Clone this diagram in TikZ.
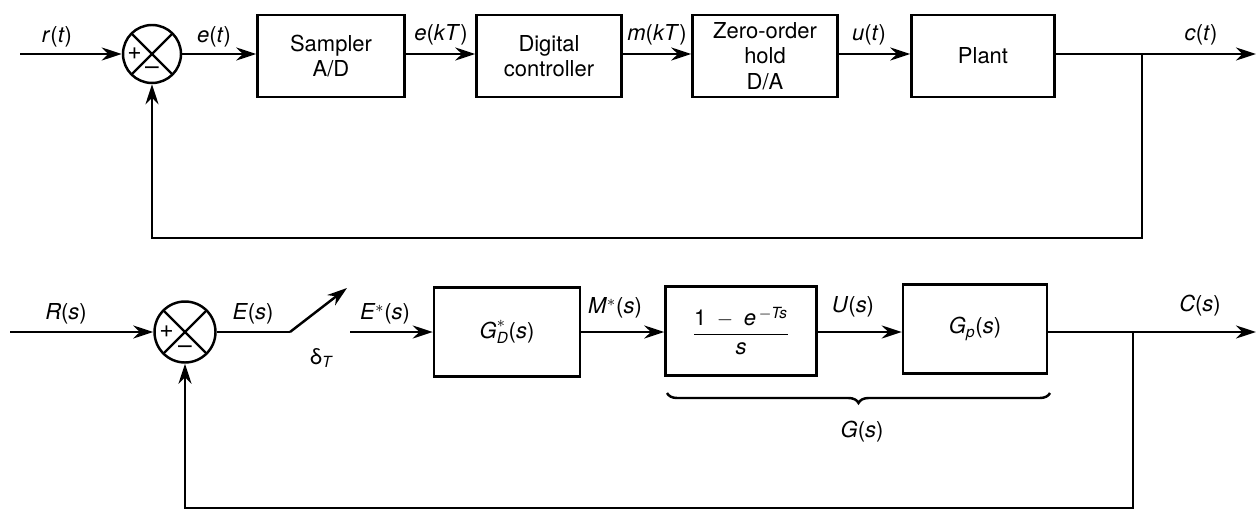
\documentclass[tikz,border=0pt]{standalone}
\usepackage{amsmath}
\usepackage{fontspec}
\setmainfont{TeX Gyre Heros}
\usetikzlibrary{arrows.meta,decorations.pathreplacing}

\newcommand{\vv}[1]{\textit{#1}}

\tikzset{
  wire/.style={line width=1.4pt},
  sig/.style={wire, -{Stealth[length=4mm,width=2.6mm]}},
  blk/.style={draw, wire, align=center, inner sep=2pt,
    font=\fontsize{12.5}{14.5}\selectfont},
  sumj/.style={draw, wire, circle, minimum size=1.16cm, inner sep=0pt,
    path picture={\draw[wire] (path picture bounding box.north west) -- (path picture bounding box.south east)
      (path picture bounding box.north east) -- (path picture bounding box.south west);}},
  lbl/.style={font=\fontsize{12.5}{14.5}\selectfont, inner sep=1pt},
  sgn/.style={font=\fontsize{14}{15}\selectfont, inner sep=0pt}
}

\begin{document}
\begin{tikzpicture}[x=0.02cm, y=-0.02cm]
  \useasboundingbox (0,0) rectangle (1257,517);

  % top loop: blocks
  \coordinate (rin) at (20,54);
  \node[sumj] (sum1) at (152,54) {};
  \node[blk, minimum width=2.94cm, minimum height=1.64cm] (samp) at (331,56) {Sampler\\A/D};
  \node[blk, minimum width=2.9cm, minimum height=1.64cm] (dig) at (549,56) {Digital\\controller};
  \node[blk, minimum width=2.9cm, minimum height=1.64cm] (zoh) at (765,56) {Zero-order\\hold\\D/A};
  \node[blk, minimum width=2.86cm, minimum height=1.64cm] (plant) at (983,56) {Plant};
  \coordinate (br1) at (1142,54);
  \coordinate (out1) at (1256,54);
  \coordinate (fb1) at (1142,238);

  % top loop: signals
  \draw[sig] (rin) -- (sum1);
  \draw[sig] (sum1) -- (sum1 -| samp.west);
  \draw[sig] (samp.east |- sum1) -- (sum1 -| dig.west);
  \draw[sig] (dig.east |- sum1) -- (sum1 -| zoh.west);
  \draw[sig] (zoh.east |- sum1) -- (sum1 -| plant.west);
  \draw[sig] (plant.east |- sum1) -- (out1);
  \draw[sig] (br1) -- (fb1) -| (sum1.south);

  % top loop: labels
  \node[sgn] at ([xshift=-0.35cm]sum1.center) {+};
  \node[sgn] at ([yshift=-0.33cm]sum1.center) {--};
  \node[lbl] (lr) at (57,37) {\vv{r}(\vv{t})};
  \node[lbl] (le) at (214,37) {\vv{e}(\vv{t})};
  \node[lbl] (lekt) at (441,35) {\vv{e}(\vv{kT})};
  \node[lbl] (lmkt) at (657,35) {\vv{m}(\vv{kT})};
  \node[lbl] (lu) at (869,35) {\vv{u}(\vv{t})};
  \node[lbl] (lc) at (1201,35) {\vv{c}(\vv{t})};

  % bottom loop: blocks
  \coordinate (rin2) at (10,332);
  \node[sumj, minimum size=1.22cm] (sum2) at (185,332) {};
  \coordinate (sw1) at (290,332);
  \coordinate (sw2) at (347,288);
  \coordinate (es) at (350,332);
  \node[blk, minimum width=2.92cm, minimum height=1.78cm] (gd) at (507,332)
    {$\vv{G}^{\ast}_{\vv{D}}$(\vv{s})};
  \node[blk, minimum width=3.02cm, minimum height=1.78cm] (zh) at (741,331)
    {$\displaystyle\frac{\textup{1}\;-\;\vv{e}^{\,-\vv{Ts}}}{\vv{s}}$};
  \node[blk, minimum width=2.88cm, minimum height=1.78cm] (gp) at (975,329)
    {$\vv{G}_{\vv{p}}$(\vv{s})};
  \coordinate (br2) at (1133,332);
  \coordinate (out2) at (1256,332);
  \coordinate (fb2) at (1133,508);
  \coordinate (gl) at (667,393);
  \coordinate (gr) at (1050,393);

  % bottom loop: signals
  \draw[sig] (rin2) -- (sum2);
  \draw[wire] (sum2) -- (sw1);
  \draw[sig] (sw1) -- (sw2);
  \draw[sig] (es) -- (es -| gd.west);
  \draw[sig] (gd.east |- es) -- (es -| zh.west);
  \draw[sig] (zh.east |- es) -- (es -| gp.west);
  \draw[sig] (gp.east |- es) -- (out2);
  \draw[sig] (br2) -- (fb2) -| (sum2.south);
  \draw[wire, decorate, decoration={brace, mirror, amplitude=0.2cm}] (gl) -- (gr);

  % bottom loop: labels
  \node[sgn] at ([xshift=-0.37cm]sum2.center) {+};
  \node[sgn] at ([yshift=-0.35cm]sum2.center) {--};
  \node[lbl] (lR) at (66,314) {\vv{R}(\vv{s})};
  \node[lbl] (lE) at (253,314) {\vv{E}(\vv{s})};
  \node[lbl] (ld) at (322,358) {δ\textsubscript{\vv{T}}};
  \node[lbl] (lEs) at (385,314) {\vv{E}$^{\ast}$(\vv{s})};
  \node[lbl] (lM) at (615,308) {\vv{M}$^{\ast}$(\vv{s})};
  \node[lbl] (lU) at (853,307) {\vv{U}(\vv{s})};
  \node[lbl] (lC) at (1200,306) {\vv{C}(\vv{s})};
  \node[lbl] (lG) at (862,432) {\vv{G}(\vv{s})};
\end{tikzpicture}
\end{document}
